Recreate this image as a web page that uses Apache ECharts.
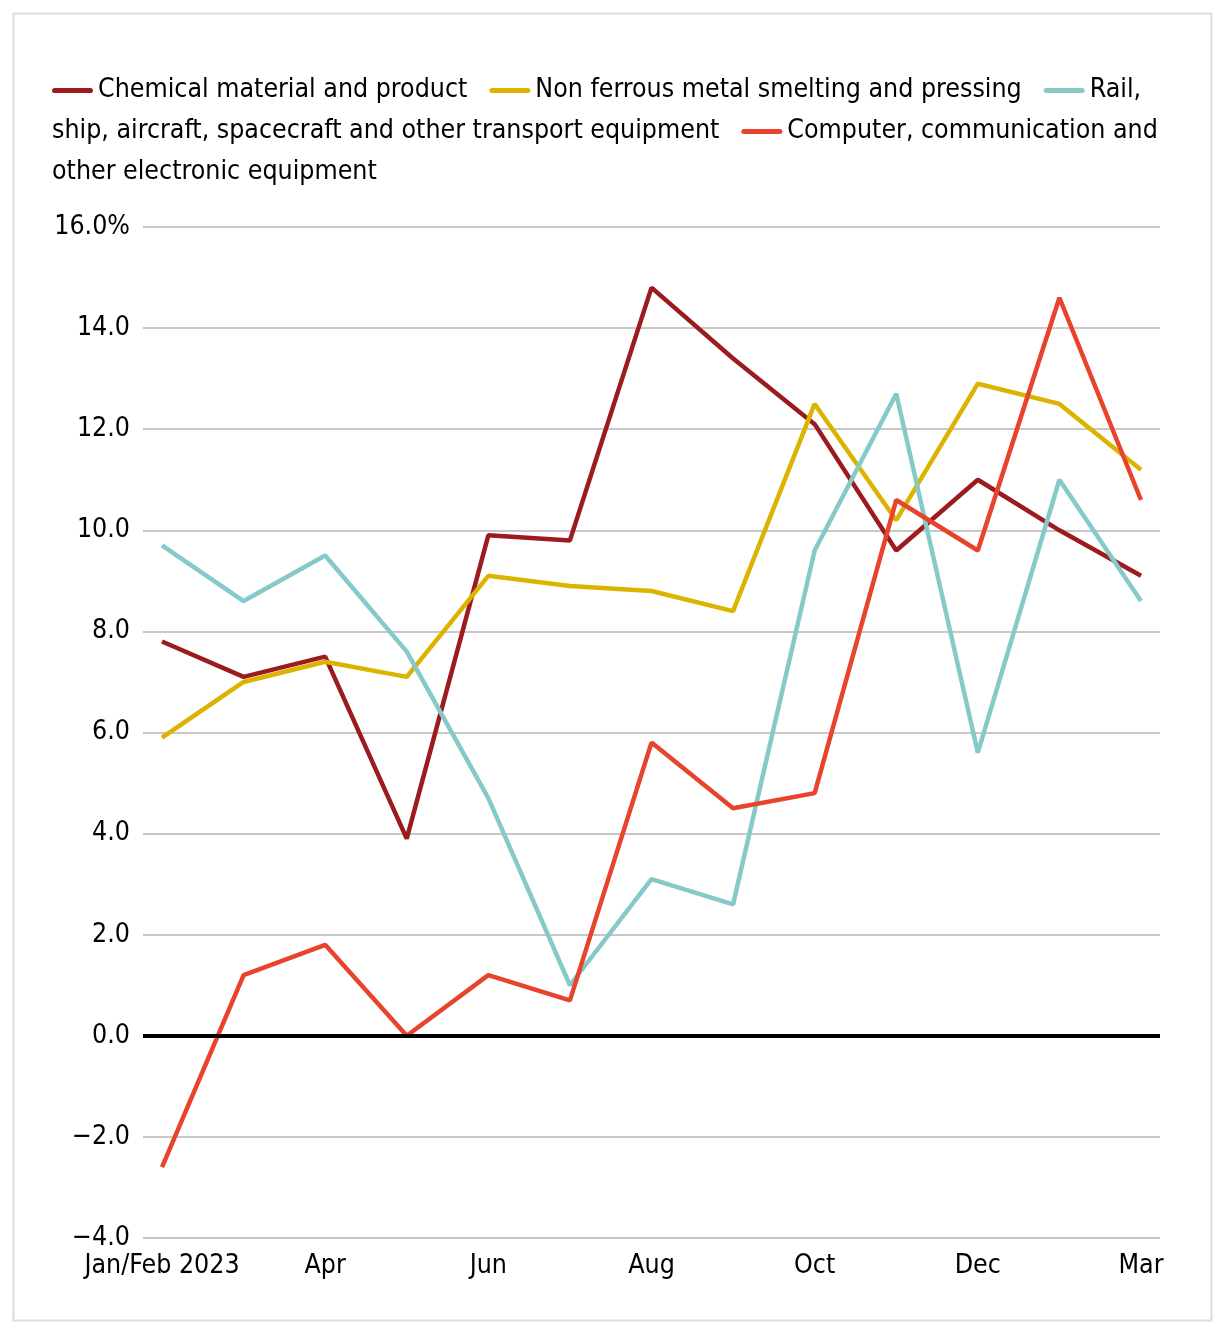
<!DOCTYPE html>
<html>
<head>
<meta charset="utf-8">
<script src="https://cdn.jsdelivr.net/npm/echarts@6/dist/echarts.min.js"></script>
<style>
html,body{margin:0;padding:0;background:#fff;}
#c{width:1220px;height:1330px;}
</style>
</head>
<body>
<div id="c"></div>
<script>
var categories = ['Jan/Feb 2023','Mar','Apr','May','Jun','Jul','Aug','Sep','Oct','Nov','Dec','Jan/Feb 2024','Mar'];
var tickIndexes = [0,2,4,6,8,10,12];
var chemical = [7.8, 7.1, 7.5, 3.9, 9.9, 9.8, 14.8, 13.4, 12.1, 9.6, 11.0, 10.0, 9.1];
var nonFerrous = [5.9, 7.0, 7.4, 7.1, 9.1, 8.9, 8.8, 8.4, 12.5, 10.2, 12.9, 12.5, 11.2];
var transport = [9.7, 8.6, 9.5, 7.6, 4.7, 1.0, 3.1, 2.6, 9.6, 12.7, 5.6, 11.0, 8.6];
var computer = [-2.6, 1.2, 1.8, 0.0, 1.2, 0.7, 5.8, 4.5, 4.8, 10.6, 9.6, 14.6, 10.6];
var seriesNames = ['Chemical material and product','Non ferrous metal smelting and pressing','Rail, ship, aircraft, spacecraft and other transport equipment','Computer, communication and other electronic equipment'];
var colors = ['#9B1B1F','#DCB400','#86C9C9','#E8432D'];

var FONT = '"DejaVu Sans Condensed", "Liberation Sans Narrow", Roboto, sans-serif';

function pairs(arr){ return arr.map(function(v,i){ return [i, v]; }); }

var legendText =
  '{i0| }{g| }Chemical material and product{s| }{i1| }{g| }Non ferrous metal smelting and pressing{s| }{i2| }{g| }Rail,\n' +
  'ship, aircraft, spacecraft and other transport equipment{s| }{i3| }{g| }Computer, communication and\n' +
  'other electronic equipment';

var rich = { g:{width:5}, s:{width:22} };
colors.forEach(function(c,i){
  rich['i'+i] = {width:41, height:5, backgroundColor:c, borderRadius:3, verticalAlign:'middle'};
});

var chart = echarts.init(document.getElementById('c'), null, {renderer:'canvas'});
var lineWidth = 4.5;
var FS = 26.5;
chart.setOption({
  animation:false,
  backgroundColor:'#fff',
  textStyle:{fontFamily:FONT},
  graphic:[{
    type:'rect', left:11, top:11, shape:{width:1198, height:1307},
    style:{fill:'none', stroke:'#dcdcdc', lineWidth:2}, silent:true
  }],
  title:{
    left:52, top:70, padding:0,
    text:legendText,
    textStyle:{fontFamily:FONT, fontSize:FS, fontWeight:'normal', color:'#000', lineHeight:41, rich:rich}
  },
  grid:{left:143, right:60, top:227, bottom:92, containLabel:false},
  xAxis:{
    type:'value', min:-0.233, max:12.233,
    axisLine:{show:false}, axisTick:{show:false}, splitLine:{show:false},
    axisLabel:{
      customValues:tickIndexes, margin:15, fontSize:FS, color:'#000', fontFamily:FONT,
      formatter:function(v){ return categories[Math.round(v)]; }
    }
  },
  yAxis:{
    type:'value', min:-4, max:16, interval:2,
    axisLine:{show:false}, axisTick:{show:false},
    splitLine:{lineStyle:{color:'#c8c8c8', width:2}},
    axisLabel:{
      margin:13, fontSize:FS, color:'#000', fontFamily:FONT,
      formatter:function(v){
        if (v === 16) return '16.0%';
        var s = Math.abs(v).toFixed(1);
        return v < 0 ? '\u2212' + s : s;
      }
    }
  },
  series:[
    {name:seriesNames[0], type:'line', data:pairs(chemical), showSymbol:false, lineStyle:{width:lineWidth, color:colors[0]}, itemStyle:{color:colors[0]},
     markLine:{silent:true, symbol:['none','none'], label:{show:false}, lineStyle:{color:'#000', width:4, type:'solid'}, data:[{yAxis:0}]}},
    {name:seriesNames[1], type:'line', data:pairs(nonFerrous), showSymbol:false, lineStyle:{width:lineWidth, color:colors[1]}, itemStyle:{color:colors[1]}},
    {name:seriesNames[2], type:'line', data:pairs(transport), showSymbol:false, lineStyle:{width:lineWidth, color:colors[2]}, itemStyle:{color:colors[2]}},
    {name:seriesNames[3], type:'line', data:pairs(computer), showSymbol:false, lineStyle:{width:lineWidth, color:colors[3]}, itemStyle:{color:colors[3]}}
  ]
});
</script>
</body>
</html>
